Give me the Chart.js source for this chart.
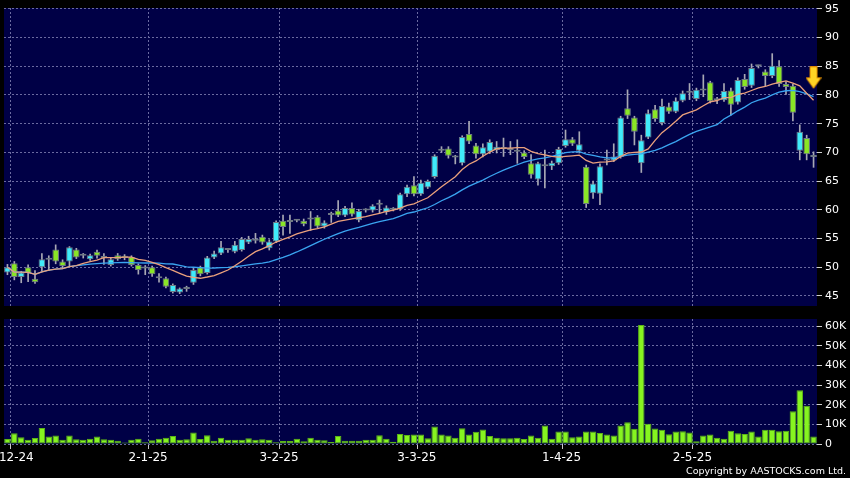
<!DOCTYPE html>
<html>
<head>
<meta charset="utf-8">
<script src="https://cdn.jsdelivr.net/npm/chart.js@4.4.1/dist/chart.umd.min.js"></script>
<style>
  html, body { margin: 0; padding: 0; background: #000; }
  #wrap { position: relative; width: 850px; height: 478px; overflow: hidden; background: #000; }
  #price { position: absolute; left: 0; top: 0; }
  #volume { position: absolute; left: 0; top: 312px; }
  #copy { position: absolute; right: 4px; top: 465px; color: #fff; font: 9.5px "DejaVu Sans", sans-serif; white-space: nowrap; }
</style>
</head>
<body>
<div id="wrap">
  <canvas id="price" width="850" height="312"></canvas>
  <canvas id="volume" width="850" height="166"></canvas>
  <div id="copy">Copyright by AASTOCKS.com Ltd.</div>
</div>
<script>
// trading days, 29-11-24 .. 28-5-25
const dates = [
  '29-11-24',
  '2-12-24','3-12-24','4-12-24','5-12-24','6-12-24','9-12-24','10-12-24','11-12-24','12-12-24','13-12-24',
  '16-12-24','17-12-24','18-12-24','19-12-24','20-12-24','23-12-24','24-12-24','27-12-24','30-12-24','31-12-24',
  '2-1-25','3-1-25','6-1-25','7-1-25','8-1-25','9-1-25','10-1-25','13-1-25','14-1-25','15-1-25',
  '16-1-25','17-1-25','20-1-25','21-1-25','22-1-25','23-1-25','24-1-25','27-1-25','28-1-25',
  '3-2-25','4-2-25','5-2-25','6-2-25','7-2-25','10-2-25','11-2-25','12-2-25','13-2-25','14-2-25',
  '17-2-25','18-2-25','19-2-25','20-2-25','21-2-25','24-2-25','25-2-25','26-2-25','27-2-25','28-2-25',
  '3-3-25','4-3-25','5-3-25','6-3-25','7-3-25','10-3-25','11-3-25','12-3-25','13-3-25','14-3-25',
  '17-3-25','18-3-25','19-3-25','20-3-25','21-3-25','24-3-25','25-3-25','26-3-25','27-3-25','28-3-25','31-3-25',
  '1-4-25','2-4-25','3-4-25','7-4-25','8-4-25','9-4-25','10-4-25','11-4-25','14-4-25','15-4-25',
  '16-4-25','17-4-25','22-4-25','23-4-25','24-4-25','25-4-25','28-4-25','29-4-25','30-4-25',
  '2-5-25','6-5-25','7-5-25','8-5-25','9-5-25','12-5-25','13-5-25','14-5-25','15-5-25','16-5-25',
  '19-5-25','20-5-25','21-5-25','22-5-25','23-5-25','26-5-25','27-5-25','28-5-25'
];

const opens = [
  49.1, 50.7, 48.3, 50.0, 48.0, 50.0, 51.3, 53.1, 51.0, 51.0,
  53.1, 52.0, 51.4, 52.7, 51.6, 50.4, 52.1, 52.0, 51.8, 50.4,
  49.8, 50.0, 48.2, 48.1, 45.7, 45.6, 46.2, 47.3, 50.0, 49.0,
  51.7, 52.4, 53.0, 52.7, 53.0, 54.3, 54.7, 55.3, 53.3, 54.5,
  58.1, 57.9, 58.1, 58.1, 58.3, 58.8, 57.1, 59.1, 59.9, 59.0,
  60.3, 58.2, 59.9, 59.9, 61.1, 59.6, 60.2, 60.1, 62.7, 64.3,
  62.7, 63.9, 65.7, 70.3, 70.7, 69.2, 68.1, 73.2, 71.2, 69.7,
  70.1, 70.4, 70.6, 70.5, 70.2, 70.0, 68.1, 65.3, 67.6, 67.6,
  68.1, 71.1, 72.3, 70.3, 67.5, 62.9, 62.8, 68.6, 68.6, 69.2,
  77.7, 76.1, 68.1, 72.6, 77.5, 75.1, 78.0, 77.1, 79.0, 80.5,
  79.3, 80.8, 82.2, 79.2, 79.1, 80.8, 78.7, 82.8, 81.6, 85.0,
  84.1, 83.3, 85.0, 81.9, 81.6, 70.3, 72.5, 69.3
];
const highs = [
  50.5, 51.0, 49.3, 50.4, 49.4, 52.4, 52.0, 53.9, 51.3, 53.6,
  53.3, 52.4, 52.3, 53.0, 52.4, 51.6, 52.4, 52.2, 52.0, 50.6,
  50.3, 50.2, 48.9, 48.3, 47.1, 46.4, 46.7, 49.8, 50.2, 51.9,
  52.8, 54.5, 53.3, 54.5, 55.2, 55.4, 55.9, 55.6, 54.8, 58.1,
  59.1, 59.1, 58.3, 58.4, 59.7, 59.0, 58.1, 59.6, 61.6, 60.6,
  61.2, 60.1, 60.2, 60.9, 61.7, 60.7, 60.4, 62.9, 64.3, 65.8,
  65.2, 65.2, 69.6, 71.0, 71.0, 69.5, 72.9, 75.4, 71.6, 71.5,
  72.2, 71.9, 72.5, 71.9, 72.2, 70.3, 69.6, 68.3, 70.4, 68.5,
  70.9, 73.9, 72.6, 73.6, 67.8, 65.0, 68.0, 70.4, 71.5, 76.3,
  80.9, 76.3, 73.0, 77.4, 78.2, 79.3, 78.6, 79.5, 80.7, 82.0,
  81.2, 83.5, 82.4, 79.6, 82.0, 81.2, 83.0, 83.6, 85.4, 85.2,
  84.4, 87.2, 86.0, 82.3, 81.9, 74.8, 73.0, 70.1
];
const lows = [
  48.7, 47.8, 47.3, 47.5, 47.2, 49.3, 49.4, 50.6, 49.9, 50.1,
  51.5, 51.6, 51.2, 51.6, 50.5, 50.2, 51.2, 51.3, 50.2, 48.8,
  48.7, 48.4, 47.4, 46.4, 45.5, 45.4, 45.8, 47.0, 48.5, 48.8,
  51.5, 52.2, 52.6, 52.5, 52.8, 54.1, 54.2, 54.0, 53.0, 54.3,
  55.6, 55.9, 57.9, 57.2, 56.4, 56.9, 56.8, 57.8, 58.8, 58.8,
  58.9, 57.9, 59.6, 59.6, 59.4, 59.2, 59.8, 59.9, 62.3, 62.4,
  62.5, 63.7, 65.5, 70.0, 69.0, 68.0, 67.8, 71.5, 69.0, 69.2,
  69.8, 69.9, 69.3, 69.6, 68.1, 68.9, 65.5, 64.3, 63.8, 67.0,
  67.9, 70.9, 71.2, 69.9, 60.4, 62.0, 60.9, 67.8, 68.4, 69.0,
  75.9, 71.3, 66.5, 72.4, 75.4, 74.8, 76.8, 76.9, 78.8, 79.2,
  79.0, 79.7, 78.6, 78.5, 78.9, 76.5, 78.4, 81.0, 81.3, 84.7,
  81.6, 83.0, 81.5, 80.1, 75.5, 68.7, 68.7, 67.4
];
const closes = [
  50.0, 48.3, 49.1, 49.0, 47.4, 51.4, 51.3, 51.0, 50.2, 53.5,
  51.7, 52.0, 52.1, 52.0, 51.6, 51.4, 51.4, 51.6, 50.4, 49.5,
  49.8, 48.8, 48.1, 46.6, 46.9, 46.3, 46.5, 49.5, 48.8, 51.7,
  52.4, 53.5, 53.0, 53.9, 54.9, 54.9, 54.6, 54.3, 54.5, 57.9,
  57.0, 57.9, 58.1, 57.5, 58.3, 57.1, 57.8, 59.1, 59.0, 60.3,
  59.2, 59.8, 59.9, 60.7, 60.9, 60.4, 60.0, 62.7, 64.0, 62.7,
  64.7, 65.0, 69.4, 70.5, 69.4, 69.1, 72.7, 71.9, 69.7, 70.9,
  71.8, 71.0, 70.6, 70.4, 70.1, 69.2, 66.1, 68.1, 67.6, 68.2,
  70.6, 72.3, 71.5, 71.4, 61.0, 64.6, 67.6, 68.6, 69.3, 76.1,
  76.4, 73.6, 72.1, 76.8, 75.8, 78.1, 77.1, 79.0, 80.3, 80.4,
  80.9, 80.8, 78.9, 79.1, 80.7, 78.3, 82.6, 81.4, 84.7, 85.0,
  83.3, 85.1, 81.9, 81.4, 76.9, 73.6, 69.7, 69.2
];
// volume in thousands of shares
const volumeK = [
  2.6, 5.5, 3.4, 2.1, 3.1, 8.2, 3.8, 4.3, 2.1, 4.3,
  2.4, 2.1, 2.7, 3.8, 2.4, 2.1, 1.7, 0.7, 2.1, 2.7,
  0.9, 1.9, 2.7, 3.2, 4.1, 2.1, 2.4, 5.8, 2.6, 4.4,
  1.7, 3.2, 2.1, 2.1, 2.1, 2.9, 2.1, 2.4, 2.2, 0.9,
  1.5, 1.5, 2.7, 1.4, 3.2, 2.2, 1.9, 1.0, 4.1, 1.7,
  1.7, 1.7, 2.2, 2.2, 4.4, 2.7, 1.2, 5.1, 4.6, 4.8,
  4.8, 2.9, 8.9, 4.8, 4.3, 3.2, 8.0, 4.8, 6.2, 7.4,
  4.1, 3.2, 2.9, 2.9, 3.2, 2.6, 4.3, 3.2, 9.4, 2.7,
  6.3, 6.3, 3.4, 3.8, 6.3, 6.3, 5.6, 4.8, 4.3, 9.4,
  11.1, 7.7, 60.5, 10.3, 7.9, 7.2, 5.0, 6.3, 6.5, 5.8,
  1.4, 4.3, 4.8, 3.2, 2.7, 6.8, 5.5, 5.1, 6.3, 3.8,
  7.2, 7.2, 6.5, 6.7, 16.6, 27.4, 19.5, 3.8
];

const tickDates = ['2-12-24', '2-1-25', '3-2-25', '3-3-25', '1-4-25', '2-5-25'];
const priceTicks = [45, 50, 55, 60, 65, 70, 75, 80, 85, 90, 95];
const volumeTicks = [0, 10, 20, 30, 40, 50, 60];
const signalDate = '28-5-25';
const signalPrice = 83.0;

const monthIdx = tickDates.map(d => dates.indexOf(d));

function sma(values, n) {
  return values.map((_, i) => {
    const win = values.slice(Math.max(0, i - n + 1), i + 1);
    return win.reduce((a, b) => a + b, 0) / win.length;
  });
}

const bodies = opens.map((o, i) => [o, closes[i]]);
const wicks = lows.map((l, i) => [l, highs[i]]);
const bodyColors = opens.map((o, i) => closes[i] > o ? '#40eafa' : closes[i] < o ? '#8ae626' : '#b4b8bc');
const signal = dates.map(d => d === signalDate ? signalPrice : null);

const NAVY = '#000046';
const GRID = '#6a6aa0';

const panelBg = {
  id: 'panelBg',
  beforeDraw(chart) {
    const { ctx, chartArea: a } = chart;
    ctx.save();
    ctx.fillStyle = NAVY;
    ctx.fillRect(a.left, a.top, a.right - a.left, a.bottom - a.top);
    ctx.restore();
  }
};

// yellow down arrow marker
const arrow = document.createElement('canvas');
arrow.width = 16; arrow.height = 23;
(function () {
  const g = arrow.getContext('2d');
  g.beginPath();
  g.moveTo(4.5, 0.5); g.lineTo(11.5, 0.5); g.lineTo(11.5, 11.5); g.lineTo(15.5, 11.5);
  g.lineTo(8, 22); g.lineTo(0.5, 11.5); g.lineTo(4.5, 11.5); g.closePath();
  g.fillStyle = '#ffd424'; g.fill();
  g.strokeStyle = '#e08a00'; g.lineWidth = 1; g.stroke();
})();

const monthGrid = ctx => monthIdx.includes(ctx.index) ? GRID : 'rgba(0,0,0,0)';
const monthTick = ctx => monthIdx.includes(ctx.index) ? '#c8c8c8' : 'rgba(0,0,0,0)';
const noPad = s => { s.paddingTop = 0; s.paddingBottom = 0; s.paddingLeft = 0; s.paddingRight = 0; };

new Chart(document.getElementById('price'), {
  type: 'bar',
  data: {
    labels: dates,
    datasets: [
      { type: 'line', label: 'Signal', data: signal, pointStyle: arrow, pointRadius: 10, showLine: false, clip: false, order: -2 },
      { type: 'line', label: 'SMA10', data: sma(closes, 10), borderColor: '#eaa07c', borderWidth: 1.3, pointRadius: 0, order: -1 },
      { type: 'line', label: 'SMA20', data: sma(closes, 20), borderColor: '#3aa4f0', borderWidth: 1.3, pointRadius: 0, order: -1 },
      { label: 'Body', data: bodies, backgroundColor: bodyColors, borderColor: '#6e7884', borderWidth: 1,
        borderSkipped: false, minBarLength: 2, grouped: false, barPercentage: 0.96, categoryPercentage: 1, order: 1 },
      { label: 'Wick', data: wicks, backgroundColor: '#a8a8b4', barThickness: 1, grouped: false, order: 2 }
    ]
  },
  options: {
    responsive: false,
    animation: false,
    layout: { autoPadding: false, padding: { left: 4, top: 8, right: 0, bottom: 6 } },
    plugins: { legend: { display: false }, tooltip: { enabled: false } },
    scales: {
      x: {
        offset: true,
        grid: { offset: true, color: monthGrid, drawTicks: false },
        border: { display: false, dash: [2, 2] },
        ticks: { display: false, autoSkip: false },
        afterFit: s => { noPad(s); s.height = 0; }
      },
      y: {
        position: 'right',
        min: 43.25,
        max: 95.15,
        afterBuildTicks: s => { s.ticks = priceTicks.map(v => ({ value: v })); },
        afterFit: s => { noPad(s); s.width = 33; },
        grid: { color: GRID, tickColor: '#d0d0d0', tickLength: 5, tickBorderDash: [] },
        border: { display: false, dash: [2, 2] },
        ticks: { color: '#ffffff', font: { family: 'DejaVu Sans', size: 11 }, padding: 3 }
      }
    }
  },
  plugins: [panelBg]
});

new Chart(document.getElementById('volume'), {
  type: 'bar',
  data: {
    labels: dates,
    datasets: [
      { label: 'Volume', data: volumeK, backgroundColor: '#86f420', borderColor: '#5cb416', borderWidth: 1,
        borderSkipped: false, barPercentage: 0.94, categoryPercentage: 1 }
    ]
  },
  options: {
    responsive: false,
    animation: false,
    layout: { autoPadding: false, padding: { left: 4, top: 7, right: 0, bottom: 0 } },
    plugins: { legend: { display: false }, tooltip: { enabled: false } },
    scales: {
      x: {
        offset: true,
        grid: { offset: true, color: monthGrid, tickColor: monthTick, tickLength: 5, tickBorderDash: [] },
        border: { display: false, dash: [2, 2] },
        ticks: {
          autoSkip: false, maxRotation: 0, color: '#ffffff', padding: 2, labelOffset: -4,
          font: { family: 'DejaVu Sans', size: 12 },
          callback: (v, i) => monthIdx.includes(i) ? dates[i] : ''
        },
        afterFit: s => { noPad(s); s.height = 34; }
      },
      y: {
        position: 'right',
        min: 0,
        max: 63.6,
        afterBuildTicks: s => { s.ticks = volumeTicks.map(v => ({ value: v })); },
        afterFit: s => { noPad(s); s.width = 33; },
        grid: { color: GRID, tickColor: '#d0d0d0', tickLength: 5, tickBorderDash: [] },
        border: { display: false, dash: [2, 2] },
        ticks: { color: '#ffffff', font: { family: 'DejaVu Sans', size: 11 }, padding: 3,
          callback: v => v === 0 ? '0' : v + 'K' }
      }
    }
  },
  plugins: [panelBg]
});
</script>
</body>
</html>
